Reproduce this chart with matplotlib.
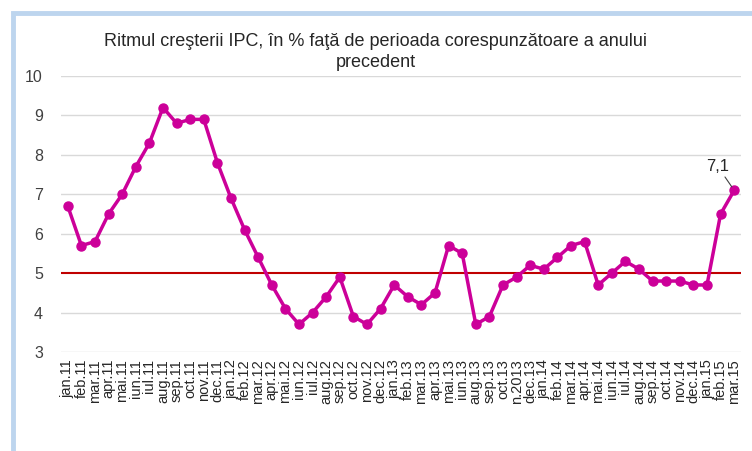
import matplotlib.pyplot as plt
from matplotlib.patches import Rectangle

# date: ritmul cresterii IPC, % fata de perioada corespunzatoare a anului precedent
luni = ['jan.11', 'feb.11', 'mar.11', 'apr.11', 'mai.11', 'iun.11', 'iul.11', 'aug.11',
        'sep.11', 'oct.11', 'nov.11', 'dec.11',
        'jan.12', 'feb.12', 'mar.12', 'apr.12', 'mai.12', 'iun.12', 'iul.12', 'aug.12',
        'sep.12', 'oct.12', 'nov.12', 'dec.12',
        'jan.13', 'feb.13', 'mar.13', 'apr.13', 'mai.13', 'iun.13', 'aug.13', 'sep.13',
        'oct.13', 'n.2013', 'dec.13',
        'jan.14', 'feb.14', 'mar.14', 'apr.14', 'mai.14', 'iun.14', 'iul.14', 'aug.14',
        'sep.14', 'oct.14', 'nov.14', 'dec.14',
        'jan.15', 'feb.15', 'mar.15']
ipc = [6.7, 5.7, 5.8, 6.5, 7.0, 7.7, 8.3, 9.2, 8.8, 8.9, 8.9, 7.8,
       6.9, 6.1, 5.4, 4.7, 4.1, 3.7, 4.0, 4.4, 4.9, 3.9, 3.7, 4.1,
       4.7, 4.4, 4.2, 4.5, 5.7, 5.5, 3.7, 3.9, 4.7, 4.9, 5.2,
       5.1, 5.4, 5.7, 5.8, 4.7, 5.0, 5.3, 5.1, 4.8, 4.8, 4.8, 4.7,
       4.7, 6.5, 7.1]
prag = 5
y_ticks = [3, 4, 5, 6, 7, 8, 9, 10]

plt.rcParams['font.family'] = ['Liberation Sans', 'DejaVu Sans']

fig = plt.figure(figsize=(7.52, 4.51), dpi=100)
# chenarul graficului
fig.add_artist(Rectangle((13 / 752, -0.05), 1.0, 1 - 13 / 451 + 0.05, transform=fig.transFigure,
                         facecolor='none', edgecolor='#BDD5EE', lw=3.5))

ax = fig.add_axes([61 / 752, 1 - 352 / 451, 680 / 752, (352 - 76) / 451])
x = list(range(len(luni)))

for v in y_ticks:
    if v != prag:
        ax.axhline(v, color='#D9D9D9', lw=1, zorder=1)
ax.axhline(prag, color='#C00000', lw=1.5, zorder=2)

ax.plot(x, ipc, color='#CC0099', lw=2.5, marker='o', markersize=6.5, zorder=3)

ax.annotate('7,1', xy=(x[-1], ipc[-1]), xytext=(x[-1] - 1.2, ipc[-1] + 0.6),
            ha='center', va='center', fontsize=12, color='#262626',
            arrowprops=dict(arrowstyle='-', color='#404040', lw=0.8, shrinkA=0, shrinkB=3))

ax.set_xlim(-0.5, len(luni) - 0.5)
ax.set_ylim(3, 10)
ax.set_yticks(y_ticks)
ax.set_xticks(x)
ax.set_xticklabels(luni, rotation=90, fontsize=10.5, color='#262626')
ax.tick_params(axis='y', labelsize=11.5, colors='#404040', length=0, pad=13)
ax.tick_params(axis='x', length=0, pad=5)
for s in ax.spines.values():
    s.set_visible(False)

fig.text(0.5, 1 - 52 / 451, 'Ritmul creşterii IPC, în % faţă de perioada corespunzătoare a anului\nprecedent',
         ha='center', va='center', fontsize=13, color='#262626', linespacing=1.3)

fig.savefig('out.png', dpi=100)
